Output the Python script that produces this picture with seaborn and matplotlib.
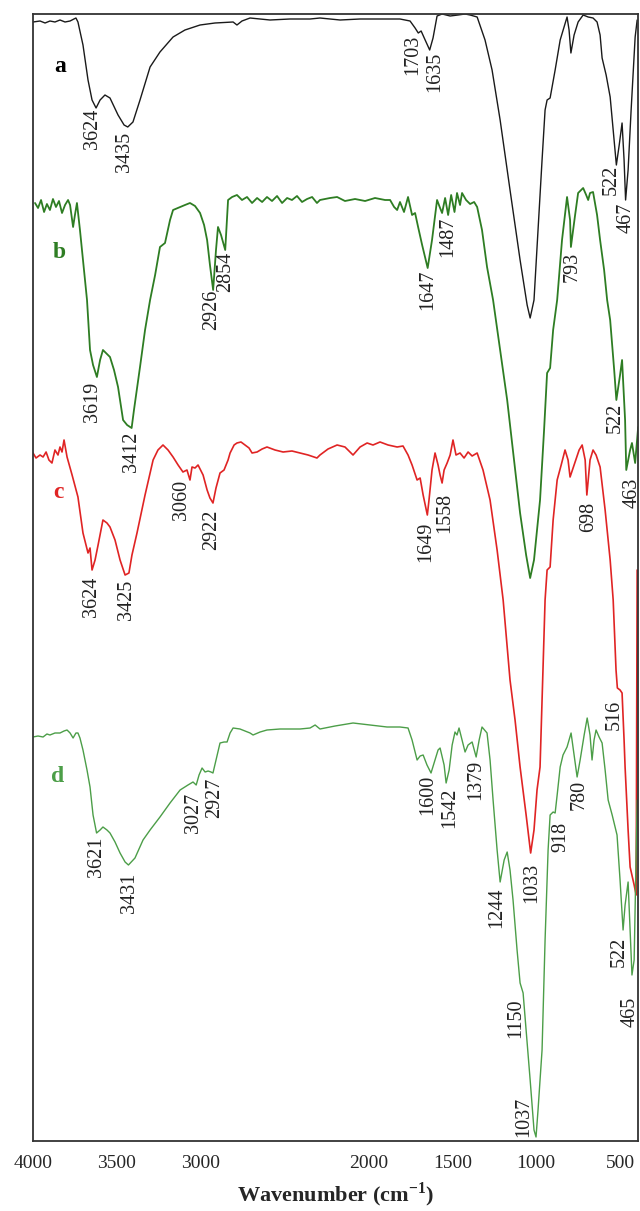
import numpy as np
import pandas as pd
import matplotlib
matplotlib.use("Agg")
import matplotlib.pyplot as plt
import seaborn as sns

# FTIR spectra (wavenumber in cm-1, transmittance in a.u., traces already offset)
wn_a = [4000, 3958, 3928, 3899, 3869, 3839, 3809, 3779, 3756, 3744, 3732, 3702, 3672, 3648, 3624,
        3600, 3571, 3541, 3493, 3457, 3435, 3404, 3362, 3302, 3243, 3165, 3094, 3004, 2915, 2807,
        2784, 2754, 2706, 2587, 2468, 2348, 2289, 2169, 2050, 1931, 1812, 1752, 1722, 1703, 1686,
        1662, 1635, 1615, 1591, 1561, 1513, 1466, 1424, 1394, 1352, 1305, 1263, 1215, 1156, 1096,
        1054, 1036, 1013, 989, 965, 947, 935, 917, 887, 857, 816, 804, 793, 774, 750, 720, 690,
        661, 637, 619, 607, 583, 559, 541, 522, 505, 488, 476, 467, 452, 434, 410, 398]
t_a = [1119, 1120, 1118, 1120, 1119, 1121, 1119, 1120, 1122, 1123, 1119, 1096, 1061, 1041, 1033,
       1041, 1046, 1043, 1026, 1016, 1014, 1019, 1041, 1074, 1089, 1104, 1111, 1116, 1118, 1119,
       1116, 1120, 1123, 1121, 1122, 1122, 1123, 1121, 1122, 1122, 1122, 1120, 1113, 1108, 1110,
       1101, 1091, 1103, 1125, 1127, 1125, 1126, 1127, 1126, 1124, 1101, 1071, 1021, 951, 881,
       836, 823, 841, 911, 981, 1031, 1041, 1043, 1071, 1101, 1124, 1111, 1088, 1106, 1119, 1126, 1124,
       1123, 1119, 1106, 1083, 1066, 1044, 1011, 976, 996, 1018, 981, 941, 971, 1031, 1104, 1121]

wn_b = [3988, 3970, 3952, 3934, 3917, 3899, 3881, 3863, 3845, 3827, 3809, 3791, 3779, 3761, 3750,
        3738, 3720, 3696, 3678, 3660, 3642, 3619, 3600, 3583, 3565, 3541, 3517, 3493, 3463, 3439,
        3412, 3398, 3362, 3332, 3302, 3272, 3243, 3213, 3183, 3165, 3123, 3094, 3064, 3034, 3004,
        2980, 2962, 2945, 2926, 2909, 2897, 2879, 2854, 2837, 2813, 2784, 2754, 2724, 2694, 2664,
        2634, 2605, 2575, 2545, 2515, 2485, 2456, 2426, 2396, 2366, 2336, 2307, 2289, 2229, 2187,
        2140, 2080, 2020, 1961, 1901, 1871, 1847, 1829, 1812, 1788, 1764, 1740, 1722, 1704, 1680,
        1647, 1621, 1591, 1573, 1561, 1543, 1525, 1507, 1487, 1472, 1454, 1442, 1418, 1394, 1370,
        1352, 1323, 1293, 1257, 1215, 1173, 1132, 1096, 1060, 1036, 1013, 977, 953, 935, 917,
        899, 875, 846, 816, 798, 793, 768, 750, 720, 702, 690, 679, 661, 637, 619,
        595, 577, 559, 535, 522, 500, 488, 470, 463, 440, 429, 410, 392]
t_b = [938, 933, 941, 929, 937, 931, 942, 934, 940, 928, 936, 941, 936, 914, 926,
       938, 911, 871, 841, 791, 776, 764, 781, 791, 788, 784, 771, 754, 721, 716,
       713, 731, 774, 811, 841, 866, 894, 898, 921, 931, 934, 936, 938, 935, 928,
       916, 901, 876, 851, 891, 914, 906, 891, 941, 944, 946, 941, 944, 938, 943,
       939, 944, 940, 945, 938, 943, 941, 945, 939, 942, 944, 938, 941, 943, 944,
       940, 942, 940, 943, 941, 941, 934, 931, 939, 929, 944, 926, 928, 914, 896,
       873, 901, 941, 933, 928, 943, 926, 946, 929, 948, 936, 948, 941, 937, 939,
       934, 911, 874, 841, 791, 741, 681, 628, 586, 563, 581, 641, 711, 768, 773,
       811, 841, 901, 944, 921, 894, 926, 948, 953, 946, 941, 948, 949, 926, 901,
       871, 841, 821, 771, 741, 766, 781, 721, 671, 691, 698, 678, 714]

wn_c = [4000, 3982, 3958, 3940, 3922, 3905, 3887, 3869, 3851, 3839, 3827, 3815, 3797, 3767, 3732,
        3702, 3684, 3672, 3660, 3648, 3630, 3612, 3583, 3559, 3541, 3511, 3481, 3451, 3428, 3410,
        3380, 3332, 3284, 3255, 3225, 3195, 3165, 3135, 3106, 3082, 3064, 3052, 3034, 3016, 2986,
        2962, 2945, 2927, 2909, 2885, 2861, 2837, 2825, 2801, 2784, 2760, 2736, 2712, 2694, 2664,
        2634, 2605, 2557, 2509, 2456, 2408, 2360, 2307, 2289, 2241, 2187, 2140, 2092, 2050, 2008,
        1973, 1931, 1883, 1829, 1794, 1764, 1740, 1710, 1692, 1674, 1649, 1639, 1621, 1603, 1585,
        1573, 1561, 1549, 1531, 1513, 1496, 1478, 1454, 1430, 1406, 1382, 1352, 1317, 1275, 1233,
        1197, 1156, 1126, 1096, 1060, 1033, 1013, 995, 977, 965, 947, 935, 917, 899, 875,
        851, 828, 810, 798, 768, 744, 726, 708, 698, 679, 661, 643, 619, 589, 559,
        541, 524, 516, 500, 488, 476, 470, 452, 440, 416, 404, 398]
t_c = [688, 683, 686, 684, 689, 681, 678, 691, 686, 694, 689, 701, 684, 666, 644,
       608, 596, 588, 593, 571, 581, 596, 621, 618, 614, 601, 581, 566, 568, 586,
       608, 646, 681, 691, 696, 691, 684, 676, 669, 671, 661, 674, 673, 676, 666,
       651, 643, 638, 653, 668, 671, 681, 688, 696, 698, 699, 696, 693, 688, 689,
       692, 694, 691, 689, 690, 688, 686, 683, 686, 692, 696, 694, 686, 694, 698,
       696, 699, 696, 694, 695, 686, 676, 661, 663, 646, 626, 641, 671, 688, 676,
       666, 658, 671, 678, 686, 701, 686, 688, 683, 689, 685, 688, 671, 641, 591,
       541, 461, 421, 374, 326, 288, 311, 351, 374, 441, 541, 571, 574, 621, 661,
       676, 691, 681, 664, 679, 691, 696, 681, 646, 681, 691, 686, 674, 631, 581,
       541, 471, 453, 451, 448, 401, 374, 311, 274, 256, 246, 571]

wn_d = [4000, 3970, 3940, 3917, 3899, 3869, 3839, 3815, 3797, 3779, 3761, 3744, 3732, 3720, 3702,
        3678, 3660, 3642, 3621, 3600, 3583, 3559, 3541, 3511, 3481, 3451, 3431, 3392, 3344, 3302,
        3243, 3183, 3123, 3076, 3046, 3027, 3010, 2992, 2974, 2956, 2939, 2927, 2909, 2885, 2861,
        2843, 2825, 2807, 2766, 2706, 2688, 2646, 2605, 2527, 2408, 2348, 2318, 2289, 2199, 2092,
        1990, 1889, 1812, 1764, 1740, 1710, 1692, 1674, 1651, 1627, 1603, 1585, 1573, 1549, 1537,
        1519, 1501, 1484, 1472, 1460, 1442, 1424, 1406, 1382, 1358, 1340, 1323, 1293, 1275, 1257,
        1233, 1215, 1191, 1173, 1156, 1138, 1114, 1096, 1078, 1060, 1036, 1013, 1001, 989, 977,
        965, 947, 929, 917, 899, 887, 875, 857, 840, 816, 792, 774, 756, 738, 714,
        696, 679, 667, 655, 643, 625, 607, 589, 571, 547, 518, 500, 482, 470, 452,
        440, 429, 416, 398]
t_d = [404, 405, 404, 407, 406, 408, 408, 410, 411, 408, 403, 408, 408, 403, 391,
       371, 354, 326, 308, 311, 314, 311, 308, 299, 288, 279, 276, 283, 301, 311,
       324, 338, 351, 356, 359, 356, 366, 373, 369, 370, 369, 368, 381, 398, 399,
       399, 408, 413, 412, 408, 406, 409, 411, 412, 412, 413, 416, 412, 415, 418,
       416, 414, 414, 413, 401, 381, 385, 386, 376, 368, 381, 391, 393, 376, 358,
       371, 396, 409, 406, 413, 401, 389, 396, 399, 384, 401, 414, 408, 381, 341,
       291, 259, 281, 289, 271, 241, 191, 158, 148, 111, 61, 11, 4, 31, 61,
       91, 201, 291, 326, 329, 328, 346, 374, 386, 394, 408, 386, 364, 381, 406,
       423, 406, 381, 401, 411, 404, 398, 371, 341, 326, 306, 261, 211, 236, 259,
       211, 166, 181, 341]

trace_names = ["a", "b", "c", "d"]
trace_colors = ["#1a1a1a", "#2e7d23", "#e02424", "#4c9e48"]
trace_widths = [1.0, 1.3, 1.2, 1.0]

# peak labels per trace: (text, wavenumber, transmittance) -> text hangs below the point
peaks_a = [("3624", 3648, 1032), ("3435", 3457, 1009), ("1703", 1734, 1106), ("1635", 1603, 1089),
           ("522", 553, 976), ("467", 464, 938)]
peaks_b = [("3619", 3645, 759), ("3412", 3410, 709), ("2926", 2933, 851), ("2854", 2849, 889),
           ("1647", 1645, 871), ("1487", 1525, 924), ("793", 786, 889), ("522", 530, 738),
           ("463", 430, 663)]
peaks_c = [("3624", 3654, 564), ("3425", 3445, 561), ("3060", 3112, 661), ("2922", 2933, 631),
           ("1649", 1657, 619), ("1558", 1543, 648), ("698", 685, 639), ("1033", 1024, 278),
           ("516", 535, 441)]
peaks_d = [("3621", 3624, 304), ("3431", 3422, 268), ("3027", 3046, 348), ("2927", 2915, 363),
           ("1600", 1645, 366), ("1542", 1513, 353), ("1379", 1358, 381), ("1244", 1233, 253),
           ("1150", 1120, 143), ("1037", 1072, 44), ("918", 851, 319), ("780", 744, 361),
           ("522", 506, 204), ("465", 440, 144)]

x_ticks = [4000, 3500, 3000, 2000, 1500, 1000, 500]

sns.set_theme(style="white")
plt.rcParams['font.family'] = ['Liberation Serif', 'DejaVu Serif']
plt.rcParams['mathtext.fontset'] = 'custom'
plt.rcParams['mathtext.rm'] = 'Liberation Serif'
plt.rcParams['mathtext.bf'] = 'Liberation Serif:bold'

fig = plt.figure(figsize=(6.4, 12.11), dpi=100)
ax = fig.add_axes([33 / 640, 70 / 1211, 605 / 640, 1127 / 1211])

traces = [(wn_a, t_a), (wn_b, t_b), (wn_c, t_c), (wn_d, t_d)]
for (wn, t), col, lw in zip(traces, trace_colors, trace_widths):
    sns.lineplot(x=wn, y=t, sort=False, estimator=None, color=col, linewidth=lw, ax=ax)

for peaks, col in zip([peaks_a, peaks_b, peaks_c, peaks_d], trace_colors):
    for txt, x, y in peaks:
        ax.text(x, y, txt, rotation=90, ha='center', va='top', fontsize=14.5, color='#222222')

# trace letters
letter_pos = [(3839, 1075), (3845, 889), (3851, 648), (3851, 364)]
for name, col, (x, y) in zip(trace_names, trace_colors, letter_pos):
    ax.text(x, y, name, ha='center', va='center', fontsize=17, fontweight='bold',
            color='black' if name == 'a' else col)

ax.set_xlim(4000, 393)
ax.set_ylim(0, 1127)
ax.set_xticks(x_ticks)
ax.set_xticklabels([str(v) for v in x_ticks], fontsize=14)
ax.set_yticks([])
ax.tick_params(axis='x', length=0, pad=10)
ax.set_xlabel('Wavenumber (cm$^{\\mathbf{-1}}$)', fontsize=16, fontweight='bold', labelpad=6)
ax.set_ylabel('')
for sp in ax.spines.values():
    sp.set_color('#333333')
    sp.set_linewidth(1.3)

fig.savefig('out.png', dpi=100)
